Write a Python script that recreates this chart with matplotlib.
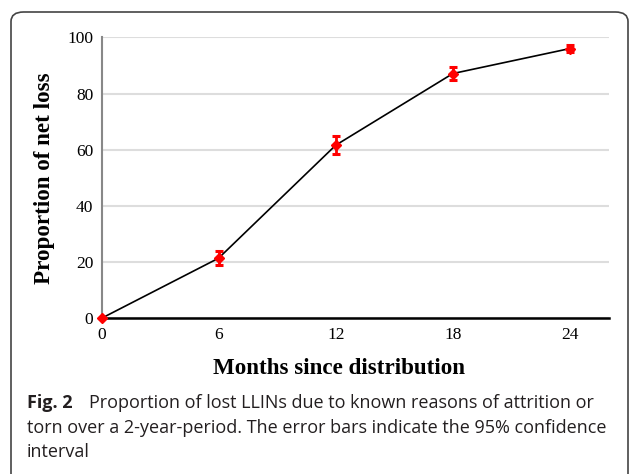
import matplotlib
matplotlib.use("Agg")
import matplotlib.pyplot as plt
from matplotlib.patches import FancyBboxPatch

months = [0, 6, 12, 18, 24]
loss = [0, 21.4, 61.6, 87.1, 96.0]
err = [0, 2.6, 3.1, 2.4, 1.4]
xticks = [0, 6, 12, 18, 24]
yticks = [0, 20, 40, 60, 80, 100]

W, H = 630, 474
fig = plt.figure(figsize=(W/100, H/100), dpi=100)

# rounded frame (open at bottom)
frame = FancyBboxPatch((11/W, -0.2), (628-11)/W, (474-12)/H + 0.2,
                       boxstyle="round,pad=0,rounding_size=0.02",
                       transform=fig.transFigure, fill=False,
                       edgecolor="#444444", linewidth=1.2, clip_on=False)
fig.patches.append(frame)

ax = fig.add_axes([101.5/W, 1-318.3/H, (609-101.5)/W, (318.3-37.3)/H])
ax.set_xlim(0, 26)
ax.set_ylim(0, 100)

lines = ax.errorbar(months, loss, yerr=err, color="black", lw=1.2,
                    ecolor="red", elinewidth=2, capsize=3, capthick=2.2,
                    marker="D", markersize=5, mfc="red", mec="red", zorder=3)
for art in lines.get_children():
    art.set_clip_on(False)

ax.set_yticks(yticks)
ax.set_xticks(xticks)
ax.yaxis.grid(True, color="#dddddd", lw=1.5)
ax.set_axisbelow(True)
for s in ["top", "right"]:
    ax.spines[s].set_visible(False)
ax.spines["left"].set_color("#888888")
ax.spines["left"].set_linewidth(1.5)
ax.spines["bottom"].set_color("black")
ax.spines["bottom"].set_linewidth(1.8)
ax.spines["bottom"].set_zorder(2)
ax.tick_params(length=0, labelsize=12.5, pad=6)
for lab in ax.get_xticklabels() + ax.get_yticklabels():
    lab.set_fontfamily("Liberation Serif")

fig.text(339/W, 1-368/H, "Months since distribution", fontsize=16.6,
         fontweight="bold", family="Liberation Serif", ha="center", va="center")
fig.text(45/W, 1-178/H, "Proportion of net loss", fontsize=16.6,
         fontweight="bold", family="Liberation Serif", ha="center",
         va="center", rotation=90)

cap_font = dict(fontsize=13, va="center", family="Open Sans", color="#231f20")
fig.text(27/W, 1-403/H, "Fig. 2", fontweight="bold", **cap_font)
fig.text(89/W, 1-403/H, "Proportion of lost LLINs due to known reasons of attrition or", **cap_font)
fig.text(27/W, 1-428/H, "torn over a 2-year-period. The error bars indicate the 95% confidence", **cap_font)
fig.text(27/W, 1-452/H, "interval", **cap_font)

fig.savefig("out.png", dpi=100)
